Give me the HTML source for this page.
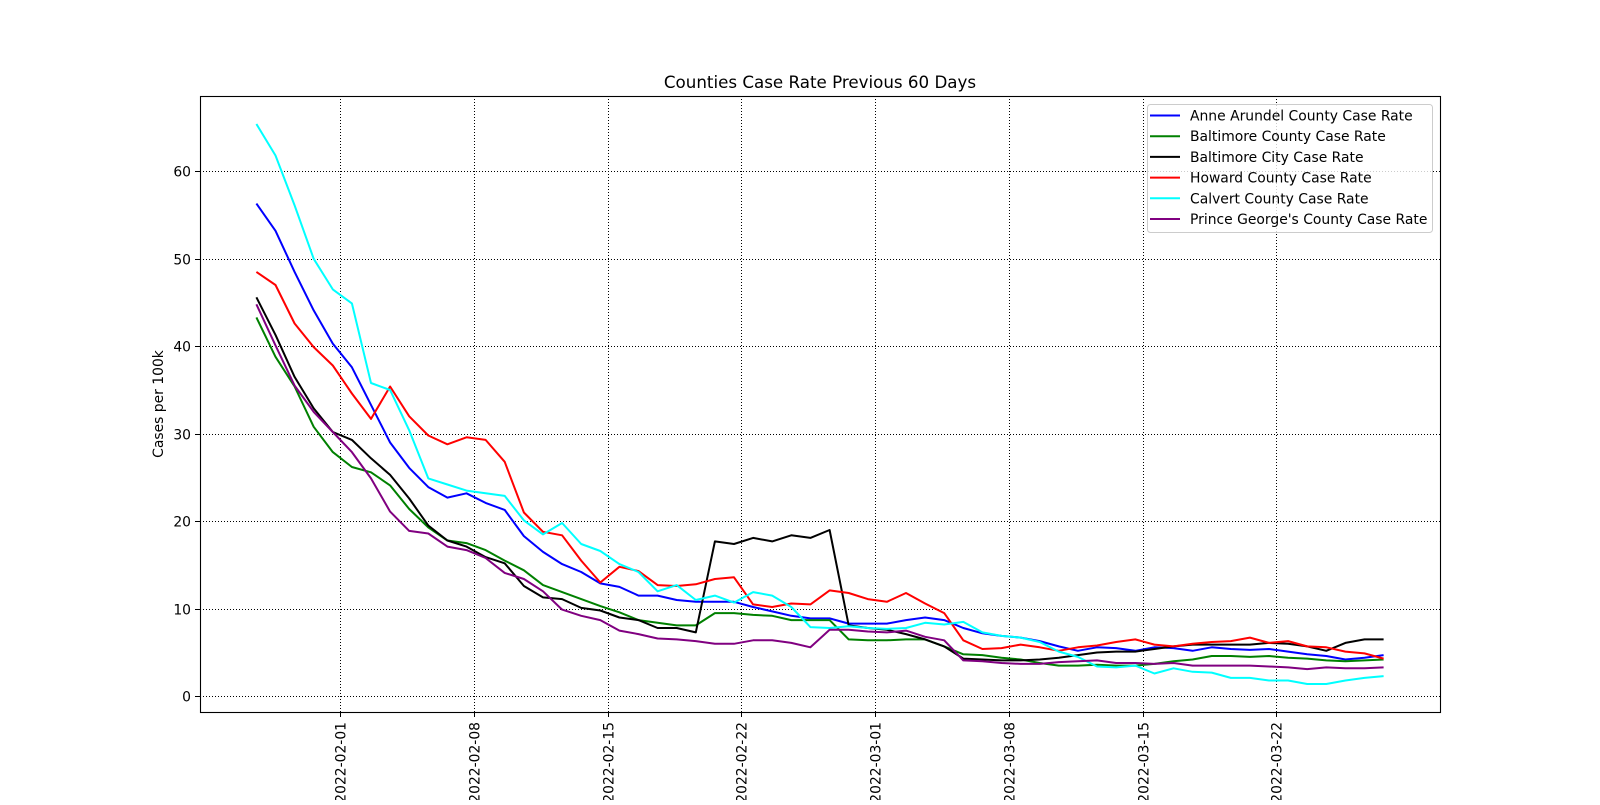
<!DOCTYPE html>
<html><head><meta charset="utf-8"><style>
body{margin:0;background:#fff;}
svg text{font-family:"DejaVu Sans","Liberation Sans",sans-serif;}
</style></head><body>
<svg id="chart" width="1600" height="800" xmlns="http://www.w3.org/2000/svg">
<rect width="1600" height="800" fill="#fff"/>
<text x="820" y="88" font-size="16.7" text-anchor="middle">Counties Case Rate Previous 60 Days</text>
<text transform="translate(163,404) rotate(-90)" font-size="13.9" text-anchor="middle">Cases per 100k</text>
<g id="grid"></g>
<g id="series"></g>
<rect x="200.5" y="96.5" width="1240" height="616" fill="none" stroke="#000" stroke-width="1.1"/>
<g id="ticks"></g>
<g id="legend"></g>
</svg>
<script>
const names=["Anne Arundel County Case Rate","Baltimore County Case Rate","Baltimore City Case Rate","Howard County Case Rate","Calvert County Case Rate","Prince George's County Case Rate"];
const colors=["#0000ff","#008000","#000000","#ff0000","#00ffff","#800080"];
const annearundel=[56.3,53.2,48.5,44.1,40.3,37.6,33.3,29.0,26.1,23.9,22.7,23.2,22.1,21.3,18.3,16.5,15.1,14.2,12.9,12.5,11.5,11.5,11.0,10.8,10.8,10.8,10.2,9.7,9.2,8.9,8.9,8.3,8.3,8.3,8.7,9.0,8.7,7.8,7.2,6.9,6.7,6.3,5.7,5.2,5.6,5.5,5.2,5.6,5.5,5.2,5.6,5.4,5.3,5.4,5.1,4.8,4.6,4.2,4.4,4.7];
const baltimorecounty=[43.3,38.8,35.4,30.8,27.9,26.2,25.6,24.1,21.4,19.3,17.8,17.5,16.7,15.5,14.4,12.7,11.9,11.1,10.3,9.6,8.7,8.4,8.1,8.1,9.5,9.5,9.3,9.2,8.7,8.7,8.7,6.5,6.4,6.4,6.5,6.5,5.7,4.8,4.7,4.4,4.2,3.8,3.5,3.5,3.6,3.5,3.5,3.7,4.0,4.2,4.6,4.6,4.5,4.6,4.4,4.3,4.1,4.0,4.1,4.2];
const baltimorecity=[45.6,41.3,36.5,32.9,30.2,29.3,27.2,25.3,22.6,19.5,17.8,17.1,15.9,15.2,12.6,11.3,11.1,10.1,9.8,9.0,8.7,7.8,7.8,7.3,17.7,17.4,18.1,17.7,18.4,18.1,19.0,8.1,7.8,7.6,7.1,6.5,5.7,4.3,4.2,4.1,4.1,4.2,4.4,4.7,5.0,5.1,5.1,5.4,5.7,5.9,5.9,5.9,5.9,6.1,6.0,5.7,5.2,6.1,6.5,6.5];
const howard=[48.5,47.0,42.6,39.9,37.8,34.6,31.7,35.4,32.0,29.8,28.8,29.6,29.3,26.8,21.0,18.8,18.4,15.5,13.0,14.8,14.3,12.7,12.6,12.8,13.4,13.6,10.5,10.2,10.6,10.5,12.1,11.8,11.1,10.8,11.8,10.6,9.5,6.4,5.4,5.5,5.9,5.6,5.2,5.6,5.8,6.2,6.5,5.9,5.7,6.0,6.2,6.3,6.7,6.1,6.3,5.7,5.6,5.1,4.9,4.3];
const calvert=[65.4,61.8,56.1,50.0,46.5,44.9,35.8,35.0,30.4,24.9,24.2,23.5,23.2,22.9,20.1,18.5,19.8,17.4,16.6,15.1,14.2,12.0,12.7,11.0,11.5,10.7,11.9,11.5,10.2,7.9,7.8,8.0,7.8,7.7,7.8,8.4,8.2,8.5,7.3,6.9,6.7,6.2,5.1,4.5,3.4,3.3,3.5,2.6,3.2,2.8,2.7,2.1,2.1,1.8,1.8,1.4,1.4,1.8,2.1,2.3];
const princegeorges=[44.8,40.1,35.5,32.5,30.2,27.9,24.9,21.1,18.9,18.6,17.1,16.7,15.8,14.1,13.4,12.0,9.9,9.2,8.7,7.5,7.1,6.6,6.5,6.3,6.0,6.0,6.4,6.4,6.1,5.6,7.6,7.6,7.4,7.3,7.5,6.8,6.4,4.1,4.0,3.8,3.7,3.7,3.9,4.0,4.1,3.8,3.8,3.7,3.8,3.5,3.5,3.5,3.5,3.4,3.3,3.1,3.3,3.2,3.2,3.3];
const seriesData=[annearundel,baltimorecounty,baltimorecity,howard,calvert,princegeorges];
const yTicks=[0,10,20,30,40,50,60];
const xTickLabels=["2022-02-01","2022-02-08","2022-02-15","2022-02-22","2022-03-01","2022-03-08","2022-03-15","2022-03-22"];
const firstTickIndex=4.38;

const L=200,R=1440,T=96,B=712;
const n=annearundel.length;
const all=seriesData.flat();
const ymin0=Math.min(...all),ymax0=Math.max(...all);
const yr=ymax0-ymin0;
const yLo=ymin0-0.05*yr,yHi=ymax0+0.05*yr;
const xLo=-0.05*(n-1),xHi=(n-1)*1.05;
const X=i=>L+(i-xLo)/(xHi-xLo)*(R-L);
const Y=v=>B-(v-yLo)/(yHi-yLo)*(B-T);
const NS="http://www.w3.org/2000/svg";
function mk(tag,attrs,parent){const e=document.createElementNS(NS,tag);for(const k in attrs)e.setAttribute(k,attrs[k]);parent.appendChild(e);return e;}
const grid=document.getElementById('grid'),ticks=document.getElementById('ticks'),ser=document.getElementById('series'),leg=document.getElementById('legend');
yTicks.forEach(v=>{
  const y=Math.round(Y(v))+0.5;
  const g=mk('line',{x1:L,x2:R,y1:y,y2:y,stroke:'#000','stroke-width':1,'stroke-dasharray':'1,2'},grid);
  
  
  const t=mk('line',{x1:L-5,x2:L,y1:y,y2:y,stroke:'#000'},ticks);
  
  
  const tx=mk('text',{x:L-9,y:y+5,'font-size':13.9,'text-anchor':'end'},ticks);
  tx.textContent=v;
  
  
});
xTickLabels.forEach((lab,k)=>{
  const x=Math.round(X(firstTickIndex+7*k))+0.5;
  const g=mk('line',{x1:x,x2:x,y1:T,y2:B,stroke:'#000','stroke-width':1,'stroke-dasharray':'1,2'},grid);
  
  
  const t=mk('line',{x1:x,x2:x,y1:B,y2:B+5,stroke:'#000'},ticks);
  
  
  const tx=mk('text',{transform:`translate(${x+5},${B+10}) rotate(-90)`,'font-size':13.9,'text-anchor':'end'},ticks);
  tx.textContent=lab;
  
  
});
seriesData.forEach((d,s)=>{
  const pts=d.map((v,i)=>X(i).toFixed(1)+','+Y(v).toFixed(1)).join(' ');
  const p=mk('polyline',{points:pts,fill:'none',stroke:colors[s],'stroke-width':2,'stroke-linejoin':'round'},ser);
  
  
});
const box=mk('rect',{x:1147.5,y:104.5,width:285,height:128,rx:3,fill:'#fff','fill-opacity':0.8,stroke:'#ccc'},leg);


names.forEach((nm,s)=>{
  const y=115.5+s*20.7;
  const ln=mk('line',{x1:1150,x2:1180,y1:y,y2:y,stroke:colors[s],'stroke-width':2},leg);
  
  
  const tx=mk('text',{x:1190,y:y+5,'font-size':13.9},leg);
  tx.textContent=nm;
  
  
});
</script>
</body></html>
